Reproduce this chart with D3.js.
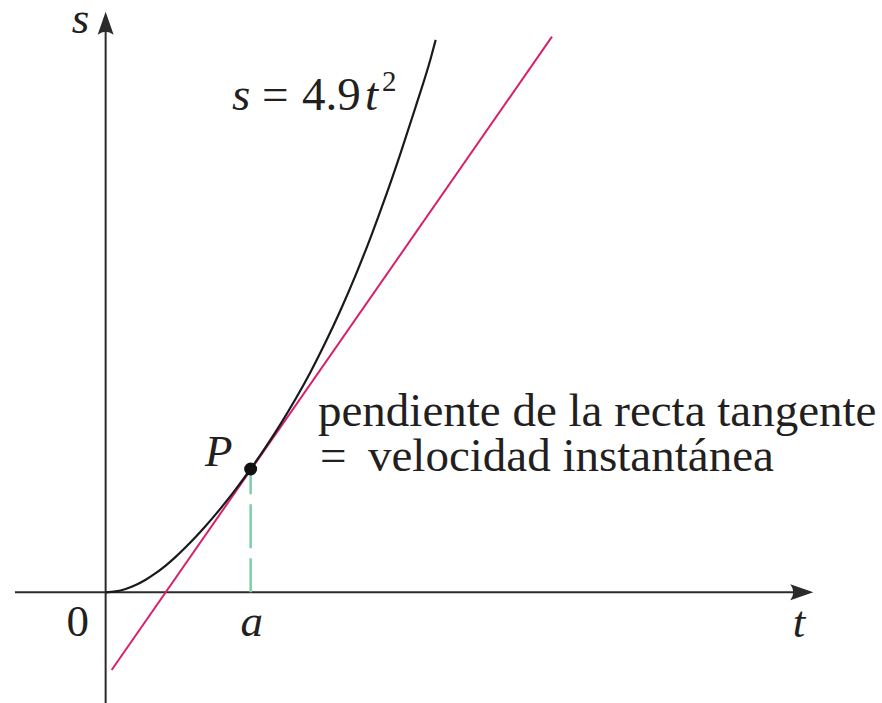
<!DOCTYPE html>
<html>
<head>
<meta charset="utf-8">
<script src="https://cdn.jsdelivr.net/npm/d3@7"></script>
<style>
  html, body { margin: 0; padding: 0; background: #fff; }
  svg { display: block; }
  text { font-family: "Liberation Serif", "DejaVu Serif", serif; fill: #231f20; }
</style>
</head>
<body>
<svg id="chart" width="882" height="703"></svg>
<script>
// Position curve s(t), sampled along the drawn graph
const curveT = [0, 0.138, 0.276, 0.414, 0.552, 0.690, 0.828, 0.966, 1.103, 1.241, 1.379, 1.517, 1.655, 1.793,
                2.0, 2.207, 2.414, 2.621, 2.828, 3.034, 3.241, 3.448, 3.655, 3.862, 4.069, 4.276, 4.483, 4.552];
const curveS = [0, 0.134, 0.526, 1.156, 1.997, 3.035, 4.253, 5.638, 7.154, 8.782, 10.53, 12.38, 14.33, 16.37,
                19.6, 23.08, 26.78, 30.76, 35.07, 39.78, 44.88, 50.43, 56.44, 62.93, 69.87, 77.19, 84.85, 87.82];

// Point P = (a, s(a))
const pointT = [2.0];
const pointS = [19.6];

// Tangent line at P, given by its two end points
const tangentT = [0.083, 6.156];
const tangentS = [-12.35, 88.33];

// Axis extents
const tExtent = [-1.25, 9.76];
const sExtent = [-17.6, 92.3];

// Text
const noteLines = ["pendiente de la recta tangente", "=", "velocidad instantánea"];
const axisLabels = { s: "s", t: "t", origin: "0", a: "a", point: "P" };

const svg = d3.select("#chart");
const x = d3.scaleLinear().domain(tExtent).range([15, 813.3]);
const y = d3.scaleLinear().domain(sExtent).range([703, 11.7]);

const ink = "#2b2b2b";

// Axes
const x0 = x(0), y0 = y(0);
svg.append("line")
  .attr("x1", x(tExtent[0])).attr("y1", y0)
  .attr("x2", x(tExtent[1]) - 12).attr("y2", y0)
  .attr("stroke", ink).attr("stroke-width", 2);
svg.append("line")
  .attr("x1", x0).attr("y1", y(sExtent[0]))
  .attr("x2", x0).attr("y2", y(sExtent[1]) + 12)
  .attr("stroke", ink).attr("stroke-width", 2);

// Arrow heads
function arrowHead(tx, ty, angle) {
  const p = d3.path();
  p.moveTo(0, 0);
  p.lineTo(-23, -8);
  p.quadraticCurveTo(-17, 0, -23, 8);
  p.closePath();
  svg.append("path")
    .attr("d", p.toString())
    .attr("transform", `translate(${tx},${ty}) rotate(${angle})`)
    .attr("fill", ink);
}
arrowHead(x(tExtent[1]), y0, 0);
arrowHead(x0, y(sExtent[1]), -90);

// Tangent line
svg.append("line")
  .attr("x1", x(tangentT[0])).attr("y1", y(tangentS[0]))
  .attr("x2", x(tangentT[1])).attr("y2", y(tangentS[1]))
  .attr("stroke", "#d6206c").attr("stroke-width", 2);

// Curve
const curveData = curveT.map((t, i) => [t, curveS[i]]);
svg.append("path")
  .datum(curveData)
  .attr("d", d3.line().x(d => x(d[0])).y(d => y(d[1])).curve(d3.curveMonotoneX))
  .attr("fill", "none")
  .attr("stroke", "#1a1a1a")
  .attr("stroke-width", 2.2);

// Dashed drop line from P to the t-axis
svg.append("line")
  .attr("x1", x(pointT[0])).attr("y1", y(0))
  .attr("x2", x(pointT[0])).attr("y2", y(pointS[0]))
  .attr("stroke", "#7ccfa6").attr("stroke-width", 2.5)
  .attr("stroke-dasharray", "44,10")
  .attr("stroke-dashoffset", 10);

// Point P
svg.append("circle")
  .attr("cx", x(pointT[0])).attr("cy", y(pointS[0]))
  .attr("r", 6.5).attr("fill", "#111");

// Labels
const fsAxis = 45;
const fsText = 47;
svg.append("text").attr("x", x0 - 34).attr("y", 33)
  .attr("font-size", fsAxis).attr("font-style", "italic").text(axisLabels.s);
svg.append("text").attr("x", 799).attr("y", 637).attr("text-anchor", "middle")
  .attr("font-size", fsAxis).attr("font-style", "italic").text(axisLabels.t);
svg.append("text").attr("x", x0 - 28).attr("y", 636).attr("text-anchor", "middle")
  .attr("font-size", fsAxis).text(axisLabels.origin);
svg.append("text").attr("x", x(pointT[0]) + 1).attr("y", 636).attr("text-anchor", "middle")
  .attr("font-size", fsAxis).attr("font-style", "italic").text(axisLabels.a);
svg.append("text").attr("x", 205).attr("y", 466)
  .attr("font-size", fsAxis).attr("font-style", "italic").text(axisLabels.point);

// s = 4.9t^2, typeset with math spacing around "="
const eq = svg.append("text").attr("y", 110).attr("font-size", fsText);
eq.append("tspan").attr("x", 232).attr("font-style", "italic").text("s");
eq.append("tspan").attr("x", 262).text("=");
eq.append("tspan").attr("x", 302).text("4.9");
eq.append("tspan").attr("x", 365).attr("font-style", "italic").text("t");
eq.append("tspan").attr("x", 382).attr("dy", -19).attr("font-size", 29).text("2");

// Two-line note beside the tangent line
const note = svg.append("text").attr("font-size", fsText);
note.append("tspan").attr("x", 318).attr("y", 426).text(noteLines[0]);
note.append("tspan").attr("x", 320).attr("y", 471).text(noteLines[1]);
note.append("tspan").attr("x", 368).attr("y", 471).text(noteLines[2]);
</script>
</body>
</html>
